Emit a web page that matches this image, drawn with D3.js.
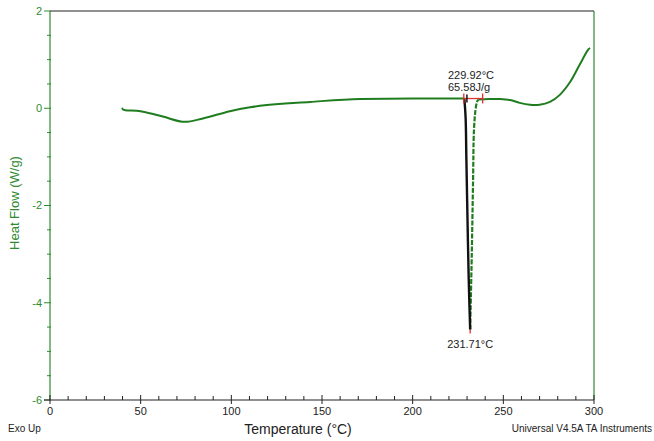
<!DOCTYPE html>
<html><head><meta charset="utf-8">
<script src="https://cdn.jsdelivr.net/npm/d3@7"></script>
<style>body{margin:0;background:#fff}svg{display:block;font-family:Arial,"Liberation Sans",sans-serif}</style>
</head><body><div id="chart"></div>
<script>
// Main DSC curve (temperature °C, heat flow W/g)
const baseTemp = [39.8,40.3,41.5,47.8,51.3,62.2,74.4,84.3,99.2,110.3,115.8,143.4,171,200,226,228.5];
const baseFlow = [0.01,-0.03,-0.04,-0.05,-0.07,-0.17,-0.28,-0.21,-0.06,0.02,0.05,0.13,0.19,0.2,0.2,0.2];
// Melting peak: descending (black) leg
const peakDownTemp = [228.5,229.2,229.6,230.2,230.9,231.71];
const peakDownFlow = [0.2,-0.2,-1.0,-2.2,-3.5,-4.55];
// Melting peak: recovering (green) leg
const peakUpTemp = [231.71,232.6,233.3,233.8,234.6,235.4,236.2];
const peakUpFlow = [-4.55,-3.0,-1.5,-0.45,-0.05,0.12,0.18];
// Remainder of curve after peak
const tailTemp = [236.2,242,248,253.7,259,264.7,270,275.7,281,286.8,292,296.7,297.8];
const tailFlow = [0.18,0.19,0.19,0.17,0.11,0.07,0.07,0.13,0.27,0.54,0.89,1.2,1.24];
// Integration limits
const limitTemps = [228.2,238.6];
const limitFlow = 0.2;
const onsetTemp = 229.92, enthalpy = 65.58, peakTemp = 231.71, peakFlow = -4.55;

const xTicks = [0,50,100,150,200,250,300];
const yTicks = [2,0,-2,-4,-6];

const W=654,H=441;
const svg=d3.select("#chart").append("svg").attr("width",W).attr("height",H);
const x=d3.scaleLinear().domain([0,300]).range([50,594]);
const y=d3.scaleLinear().domain([-6,2]).range([400,11]);
const green="#2f8a2f", curve="#1f7d1f";

// frame
svg.append("line").attr("x1",x(0)).attr("x2",x(300)).attr("y1",y(2)).attr("y2",y(2)).attr("stroke","#222").attr("stroke-width",1.2);
svg.append("line").attr("x1",x(300)).attr("x2",x(300)).attr("y1",y(2)).attr("y2",y(-6)).attr("stroke",green).attr("stroke-width",1.2);

// y axis
const ya=svg.append("g").attr("transform",`translate(${x(0)},0)`);
ya.append("line").attr("y1",y(2)).attr("y2",y(-6)).attr("stroke",green).attr("stroke-width",1.2);
d3.range(-6,2.01,0.5).forEach(v=>{
  const major=Math.abs(v%2)<1e-9;
  ya.append("line").attr("x1",major?-6:-3).attr("x2",1).attr("y1",y(v)).attr("y2",y(v)).attr("stroke",green).attr("stroke-width",1);
});
yTicks.forEach(v=>{
  ya.append("text").attr("x",-8).attr("y",y(v)).attr("dy","0.35em").attr("text-anchor","end")
    .attr("fill",green).attr("font-size",11).text(v);
});
svg.append("text").attr("transform",`translate(19,203) rotate(-90)`).attr("text-anchor","middle")
  .attr("fill",green).attr("font-size",13).text("Heat Flow (W/g)");

// x axis
const xa=svg.append("g").attr("transform",`translate(0,${y(-6)})`);
xa.append("line").attr("x1",x(0)-6).attr("x2",x(300)).attr("stroke","#222").attr("stroke-width",1.2);
d3.range(0,301,10).forEach(v=>{
  const major=v%50===0;
  xa.append("line").attr("x1",x(v)).attr("x2",x(v)).attr("y1",major?-5:-4).attr("y2",major?4:0).attr("stroke","#222").attr("stroke-width",1);
});
xTicks.forEach(v=>{
  xa.append("text").attr("x",x(v)).attr("y",15).attr("text-anchor","middle").attr("fill","#222").attr("font-size",11).text(v);
});
svg.append("text").attr("x",298).attr("y",434).attr("text-anchor","middle").attr("fill","#222").attr("font-size",14).text("Temperature (°C)");
svg.append("text").attr("x",8).attr("y",432).attr("fill","#222").attr("font-size",10).text("Exo Up");
svg.append("text").attr("x",652).attr("y",432).attr("text-anchor","end").attr("fill","#222").attr("font-size",10).text("Universal V4.5A TA Instruments");

// curves
const lineC=d3.line().x(d=>x(d[0])).y(d=>y(d[1])).curve(d3.curveCatmullRom.alpha(0.5));
const lineM=d3.line().x(d=>x(d[0])).y(d=>y(d[1])).curve(d3.curveMonotoneX);
const zip=(a,b)=>a.map((v,i)=>[v,b[i]]);
svg.append("path").attr("d",lineM(zip(baseTemp,baseFlow))).attr("fill","none").attr("stroke",curve).attr("stroke-width",2);
svg.append("path").attr("d",lineC(zip(tailTemp,tailFlow))).attr("fill","none").attr("stroke",curve).attr("stroke-width",2);
svg.append("path").attr("d",lineC(zip(peakUpTemp,peakUpFlow))).attr("fill","none").attr("stroke",curve).attr("stroke-width",2.2).attr("stroke-dasharray","5,1.5");
svg.append("path").attr("d",lineC(zip(peakDownTemp,peakDownFlow))).attr("fill","none").attr("stroke","#111").attr("stroke-width",2.4);

// integration baseline and limits
svg.append("line").attr("x1",x(limitTemps[0])).attr("x2",x(limitTemps[1])).attr("y1",y(limitFlow)).attr("y2",y(limitFlow)).attr("stroke","#e03030").attr("stroke-width",1.3);
limitTemps.forEach(t=>{
  svg.append("line").attr("x1",x(t)).attr("x2",x(t)).attr("y1",y(limitFlow)-5).attr("y2",y(limitFlow)+5).attr("stroke","#e03030").attr("stroke-width",1.3);
});
svg.append("line").attr("x1",x(onsetTemp)).attr("x2",x(onsetTemp)).attr("y1",y(limitFlow)-4).attr("y2",y(limitFlow)+4).attr("stroke","#111").attr("stroke-width",1.5);
svg.append("line").attr("x1",x(peakTemp)).attr("x2",x(peakTemp)).attr("y1",y(peakFlow)).attr("y2",y(peakFlow)+4).attr("stroke","#e03030").attr("stroke-width",1.3);

svg.append("text").attr("x",448).attr("y",79).attr("fill","#222").attr("font-size",11).text(onsetTemp.toFixed(2)+"°C");
svg.append("text").attr("x",448).attr("y",91).attr("fill","#222").attr("font-size",11).text(enthalpy.toFixed(2)+"J/g");
svg.append("text").attr("x",x(peakTemp)).attr("y",348).attr("text-anchor","middle").attr("fill","#222").attr("font-size",11).text(peakTemp.toFixed(2)+"°C");
</script></body></html>
